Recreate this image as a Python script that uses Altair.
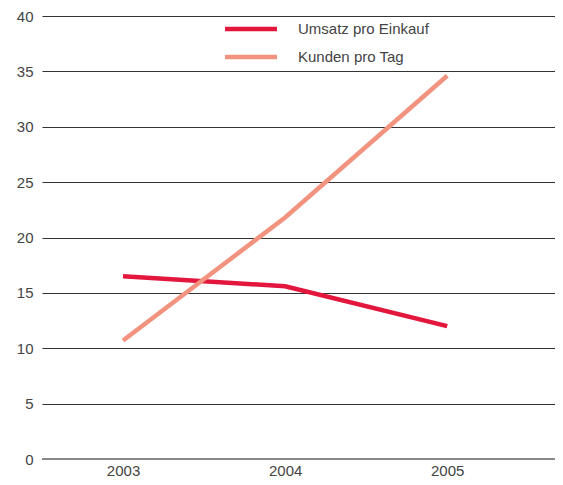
import altair as alt
import pandas as pd

years = [2003, 2004, 2005]
umsatz = [16.5, 15.6, 12.0]
kunden = [10.7, 21.8, 34.6]
series = ["Umsatz pro Einkauf", "Kunden pro Tag"]
colors = ["#e3173e", "#f1937e"]

rows = []
for y, v in zip(years, umsatz):
    rows.append({"Jahr": y, "Wert": v, "Serie": series[0]})
for y, v in zip(years, kunden):
    rows.append({"Jahr": y, "Wert": v, "Serie": series[1]})
df = pd.DataFrame(rows)

FONT = "Liberation Sans"

x = alt.X("Jahr:Q", scale=alt.Scale(domain=[2002.5, 2005.665], nice=False, zero=False),
          axis=alt.Axis(values=years, format="d", title=None, grid=False, domain=False,
                        ticks=False, labelPadding=4, labelFontSize=15, labelColor="#444",
                        labelFont=FONT))
y = alt.Y("Wert:Q", scale=alt.Scale(domain=[0, 40], nice=False),
          axis=alt.Axis(values=list(range(0, 41, 5)), title=None, domain=False, ticks=False,
                        labelPadding=9, labelFontSize=15, labelColor="#444", labelFont=FONT,
                        gridColor="#333", gridWidth=1, gridOpacity=1))

lines = alt.Chart(df).mark_line(strokeWidth=4.5, strokeCap="butt").encode(
    x=x, y=y,
    color=alt.Color("Serie:N", scale=alt.Scale(domain=series, range=colors),
                    legend=alt.Legend(orient="none", legendX=198, legendY=2, title=None,
                                      symbolType="M-3,0H3", symbolSize=300,
                                      symbolStrokeWidth=4.5, labelFontSize=15,
                                      labelColor="#444", labelFont=FONT, rowPadding=8,
                                      labelOffset=36, symbolOffset=0)),
)

zero = alt.Chart(pd.DataFrame({"v": [0]})).mark_rule(color="#888", strokeWidth=2).encode(
    y=alt.Y("v:Q", scale=alt.Scale(domain=[0, 40]))
)

chart = alt.layer(zero, lines).properties(
    width=513, height=443,
    autosize=alt.AutoSizeParams(type="none"),
    padding={"left": 34, "top": 8, "right": 0, "bottom": 19},
).configure_view(stroke=None)

chart.save("out.html", embed_options={"renderer": "svg", "actions": False})
